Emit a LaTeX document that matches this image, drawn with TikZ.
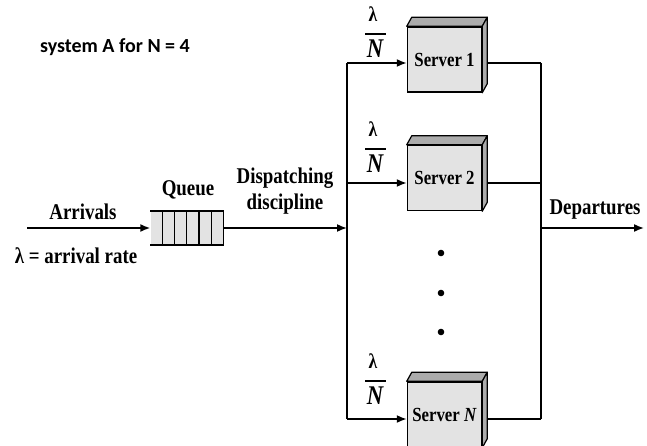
\documentclass[tikz,border=0pt]{standalone}
\usepackage{fontspec}
\setmainfont{Liberation Serif}[FakeStretch=0.84]
\newfontfamily\sysfont{Carlito}
\usetikzlibrary{arrows.meta}
\tikzstyle{server}=[rectangle, draw, fill=gray!22, line width=1.5pt, minimum width=74pt, minimum height=65pt, inner sep=0pt, font=\fontsize{20}{22}\selectfont\bfseries]
\tikzstyle{face}=[draw, fill=gray!65, line width=1.2pt, line join=round]
\tikzstyle{txt}=[font=\fontsize{22.5}{26}\selectfont\bfseries, inner sep=0pt]
\tikzstyle{lam}=[font=\fontsize{21}{24}\selectfont\bfseries, inner sep=0pt]
\tikzstyle{bign}=[font=\fontsize{27}{30}\selectfont\bfseries\itshape, inner sep=0pt]
\tikzstyle{wire}=[line width=1.6pt]
\tikzstyle{arr}=[wire, -{Latex[length=10pt,width=8pt]}]

\begin{document}
\begin{tikzpicture}[x=1pt, y=-1pt]
                    \useasboundingbox (0,0) rectangle (647,446);
                    \node[font=\sysfont\fontsize{20}{24}\selectfont\bfseries] (title) at (115,47) {system A for N = 4};
                    % input side
                    \node[txt] (arrivals) at (83,212) {Arrivals};
                    \node[txt] (lrate) at (76,256) {λ = arrival rate};
                    \node[txt] (qlabel) at (188,190) {Queue};
                    \node[txt, align=center] (disp) at (285,191) {Dispatching\\discipline};
                    \node[txt] (dep) at (595,210) {Departures};
                    \node[fill=gray!22, minimum width=73pt, minimum height=33pt, inner sep=0pt] (queue) at (187,228) {};
                    \draw[line width=2.4pt] (queue.north west) -- (queue.north east) (queue.south west) -- (queue.south east);
                    \foreach \i in {1,...,6} \draw[line width=1.2pt] (queue.north west) ++(\i*73/6,0) -- ++(0,33);
                    % servers
                    \node[server] (s1) at (444.5,59.5)  {Server 1};
                    \node[server] (s2) at (444.5,178)   {Server 2};
                    \node[server] (sN) at (444.5,414.5) {Server \textit{N}};
                    % rates lambda/N
                    \foreach \s/\y in {1/34, 2/149, N/381} {
                        \node[lam]  (l\s) at (373,\y-19.5) {λ};
                        \node[bign] (n\s) at (375,\y+15)   {N};
                        \draw[line width=1.8pt] (l\s) ++(-8,19.5) -- ++(21,0);
                    }
                    \coordinate (in) at (27,228);
                    \coordinate (out) at (644,228);
                    \coordinate (bin) at (347,228);
                    \coordinate (cout) at (541,228);
                    \coordinate (b1) at (347,63);  \coordinate (c1) at (541,63);
                    \coordinate (b2) at (347,183); \coordinate (c2) at (541,183);
                    \coordinate (bN) at (347,419); \coordinate (cN) at (541,419);
                    % connectors
                    \draw[arr] (in) -- (queue);
                    \draw[arr] (queue) -- (bin);
                    \draw[wire] (b1) -- (bN);
                    \draw[wire] (c1) -- (cN);
                    \foreach \s in {1,2,N} {
                        \draw[arr] (b\s) -- (b\s -| s\s.west);
                        \draw[wire] (b\s -| s\s.east) -- (c\s);
                    }
                    \draw[arr] (cout) -- (out);
                    \foreach \s in {s1,s2,sN} {
                        \draw[face] (\s.north west) -- ++(5,-9) -- ([shift={(5,-9)}]\s.north east) -- (\s.north east) -- cycle;
                        \draw[face] (\s.north east) -- ++(5,-9) -- ([shift={(5,-9)}]\s.south east) -- (\s.south east) -- cycle;
                    }
                    \foreach \y in {253,293,332} \fill (441,\y) circle (3.3pt);
                \end{tikzpicture}
\end{document}
